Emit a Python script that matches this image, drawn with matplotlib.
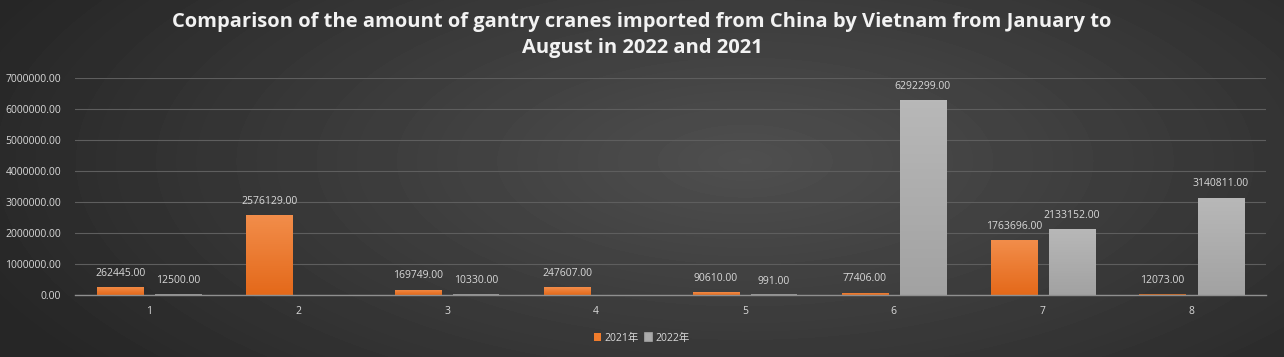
import numpy as np
import matplotlib
matplotlib.use("Agg")
import matplotlib.pyplot as plt
from matplotlib.colors import LinearSegmentedColormap

# data
months = ["1", "2", "3", "4", "5", "6", "7", "8"]
amount_2021 = [262445.00, 2576129.00, 169749.00, 247607.00, 90610.00, 77406.00, 1763696.00, 12073.00]
amount_2022 = [12500.00, 0, 10330.00, 0, 991.00, 6292299.00, 2133152.00, 3140811.00]
series_names = ["2021年", "2022年"]
yticks = [0, 1000000, 2000000, 3000000, 4000000, 5000000, 6000000, 7000000]

title = ("Comparison of the amount of gantry cranes imported from China by Vietnam from January to\n"
         "August in 2022 and 2021")

fonts = ["Open Sans", "Noto Sans CJK SC", "DejaVu Sans"]
plt.rcParams["font.family"] = fonts

W, H = 1284, 357
fig = plt.figure(figsize=(W / 100, H / 100), dpi=100)

# radial gradient background
bg = fig.add_axes([0, 0, 1, 1])
yy, xx = np.mgrid[0:H, 0:W]
r = np.sqrt(((xx - W * 0.58) / (W * 0.6)) ** 2 + ((yy - H * 0.45) / (H * 0.9)) ** 2)
shade = np.clip(0.31 - 0.15 * r, 0.15, 0.32)
bg.imshow(shade, cmap="gray", vmin=0, vmax=1, aspect="auto", extent=[0, 1, 0, 1])
bg.set_axis_off()

ax = fig.add_axes([75 / W, 1 - 295 / H, (1266 - 75) / W, (295 - 78) / H])
ax.patch.set_alpha(0)

x = np.arange(len(months))
bw = 0.31
gap = 0.04
orange = "#f07c2c"
grey = "#ababab"
b1 = ax.bar(x - bw / 2 - gap, amount_2021, bw, color=orange, label=series_names[0], zorder=3)
b2 = ax.bar(x + bw / 2 + gap, amount_2022, bw, color=grey, label=series_names[1], zorder=3)

# tiny values still show as a thin stub, like the reference
for bars, c in ((b1, "#e8701f"), (b2, "#a8a8a8")):
    for rect in bars:
        if 0 < rect.get_height() < 60000:
            rect.set_edgecolor(c)
            rect.set_linewidth(1.2)

ax.set_xlim(-0.5, len(months) - 0.5)
ax.set_ylim(0, 7000000)

# vertical gradient inside each bar (lighter at the top)
grads = [
    (b1, LinearSegmentedColormap.from_list("o", ["#e4691a", "#f28d4a"])),
    (b2, LinearSegmentedColormap.from_list("g", ["#a2a2a2", "#b8b8b8"])),
]
ramp = np.linspace(0, 1, 64).reshape(-1, 1)
for bars, cm in grads:
    for rect in bars:
        h = rect.get_height()
        if h < 60000:
            continue
        x0 = rect.get_x()
        im = ax.imshow(ramp, cmap=cm, aspect="auto", origin="lower",
                       extent=[x0, x0 + rect.get_width(), 0, h], zorder=3.5)
        im.set_clip_path(rect)
ax.set_xlim(-0.5, len(months) - 0.5)
ax.set_ylim(0, 7000000)

label_color = "#d9d9d9"
for bars, vals in ((b1, amount_2021), (b2, amount_2022)):
    for rect, v in zip(bars, vals):
        if v == 0:
            continue
        ax.annotate(f"{v:.2f}", (rect.get_x() + rect.get_width() / 2, v),
                    xytext=(0, 6), textcoords="offset points", ha="center", va="bottom",
                    fontsize=7.5, color=label_color)

ax.set_yticks(yticks)
ax.set_yticklabels([f"{v:.2f}" for v in yticks])
ax.set_xticks(x)
ax.set_xticklabels(months)
ax.tick_params(axis="both", length=0, colors=label_color, labelsize=7.5)
ax.tick_params(axis="x", pad=8)
ax.tick_params(axis="y", pad=10)
ax.grid(axis="y", color="#5e5e5e", linewidth=0.8, zorder=0)
for side in ("top", "right", "left"):
    ax.spines[side].set_visible(False)
ax.spines["bottom"].set_color("#8f8f8f")
ax.spines["bottom"].set_linewidth(1.0)
ax.spines["bottom"].set_zorder(4)

fig.text(0.5, 1 - 35 / H, title, ha="center", va="center", fontsize=14.5,
         fontweight="bold", color="#f2f2f2", linespacing=1.45)

leg = fig.legend(handles=[b1, b2], loc="center", bbox_to_anchor=(0.5, 1 - 338 / H), ncol=2,
                 frameon=False, fontsize=7.5, handlelength=0.7, handleheight=0.7,
                 handletextpad=0.3, columnspacing=0.6, labelcolor=label_color)

fig.savefig("out.png", dpi=100)
